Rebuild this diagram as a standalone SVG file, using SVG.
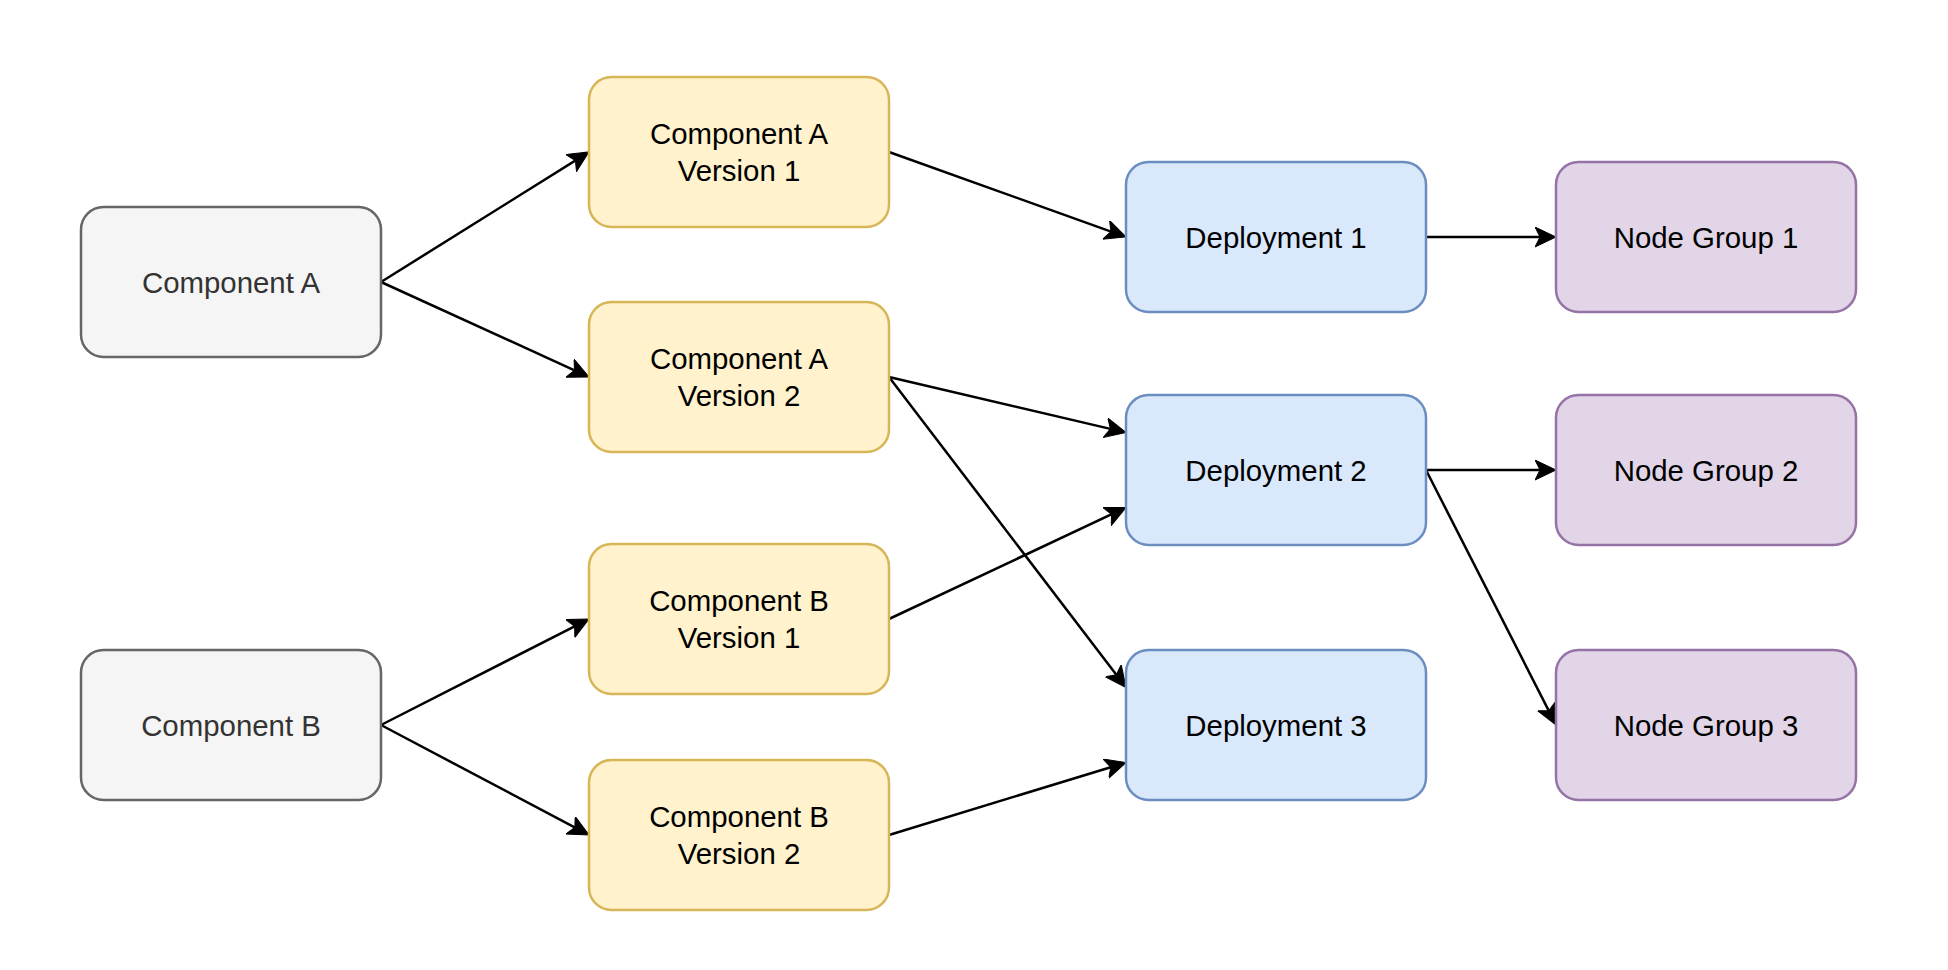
<svg xmlns="http://www.w3.org/2000/svg" width="1948" height="970" viewBox="0 0 1948 970">
<style>
.n rect{stroke-width:2.5}
.gray rect{fill:#f5f5f5;stroke:#666666}
.yel rect{fill:#fff2cc;stroke:#d6b656}
.blue rect{fill:#dae8fc;stroke:#6c8ebf}
.pur rect{fill:#e1d5e7;stroke:#9673a6}
text{font-family:"Liberation Sans",Arial,Helvetica,sans-serif;font-size:29.4px;text-anchor:middle;fill:#000}
.gray text{fill:#333333}
.e line{stroke:#000;stroke-width:2.5;fill:none;marker-end:url(#arr)}
</style>
<defs>
<marker id="arr" markerUnits="userSpaceOnUse" markerWidth="22" markerHeight="22" refX="17" refY="10" orient="auto">
<path d="M0,0 L21,10 L0,20 L5,10 Z" fill="#000" stroke="#000" stroke-width="1" stroke-linejoin="miter"/>
</marker>
</defs>
<rect width="1948" height="970" fill="#ffffff"/>
<g id="connectors" class="e">
<line x1="381" y1="282" x2="585.6" y2="154.1"/>
<line x1="381" y1="282" x2="585.4" y2="375.3"/>
<line x1="381" y1="725" x2="585.4" y2="620.8"/>
<line x1="381" y1="725" x2="585.5" y2="833.1"/>
<line x1="889" y1="152" x2="1122.2" y2="235.6"/>
<line x1="889" y1="377" x2="1122.1" y2="431.6"/>
<line x1="889" y1="377" x2="1123.6" y2="684.3"/>
<line x1="889" y1="619" x2="1122.4" y2="509.2"/>
<line x1="889" y1="835" x2="1122.2" y2="763.7"/>
<line x1="1426" y1="237" x2="1552" y2="237"/>
<line x1="1426" y1="470" x2="1552" y2="470"/>
<line x1="1426" y1="470" x2="1554.2" y2="721.4"/>
</g>
<g id="compA" class="n gray"><rect x="81" y="207" width="300" height="150" rx="22.5"/><text x="231" y="292.5">Component A</text></g>
<g id="compB" class="n gray"><rect x="81" y="650" width="300" height="150" rx="22.5"/><text x="231" y="735.5">Component B</text></g>
<g id="compAv1" class="n yel"><rect x="589" y="77" width="300" height="150" rx="22.5"/><text x="739" y="144">Component A</text><text x="739" y="180.5">Version 1</text></g>
<g id="compAv2" class="n yel"><rect x="589" y="302" width="300" height="150" rx="22.5"/><text x="739" y="369">Component A</text><text x="739" y="405.5">Version 2</text></g>
<g id="compBv1" class="n yel"><rect x="589" y="544" width="300" height="150" rx="22.5"/><text x="739" y="611">Component B</text><text x="739" y="647.5">Version 1</text></g>
<g id="compBv2" class="n yel"><rect x="589" y="760" width="300" height="150" rx="22.5"/><text x="739" y="827">Component B</text><text x="739" y="863.5">Version 2</text></g>
<g id="dep1" class="n blue"><rect x="1126" y="162" width="300" height="150" rx="22.5"/><text x="1276" y="247.5">Deployment 1</text></g>
<g id="dep2" class="n blue"><rect x="1126" y="395" width="300" height="150" rx="22.5"/><text x="1276" y="480.5">Deployment 2</text></g>
<g id="dep3" class="n blue"><rect x="1126" y="650" width="300" height="150" rx="22.5"/><text x="1276" y="735.5">Deployment 3</text></g>
<g id="ng1" class="n pur"><rect x="1556" y="162" width="300" height="150" rx="22.5"/><text x="1706" y="247.5">Node Group 1</text></g>
<g id="ng2" class="n pur"><rect x="1556" y="395" width="300" height="150" rx="22.5"/><text x="1706" y="480.5">Node Group 2</text></g>
<g id="ng3" class="n pur"><rect x="1556" y="650" width="300" height="150" rx="22.5"/><text x="1706" y="735.5">Node Group 3</text></g>
</svg>
